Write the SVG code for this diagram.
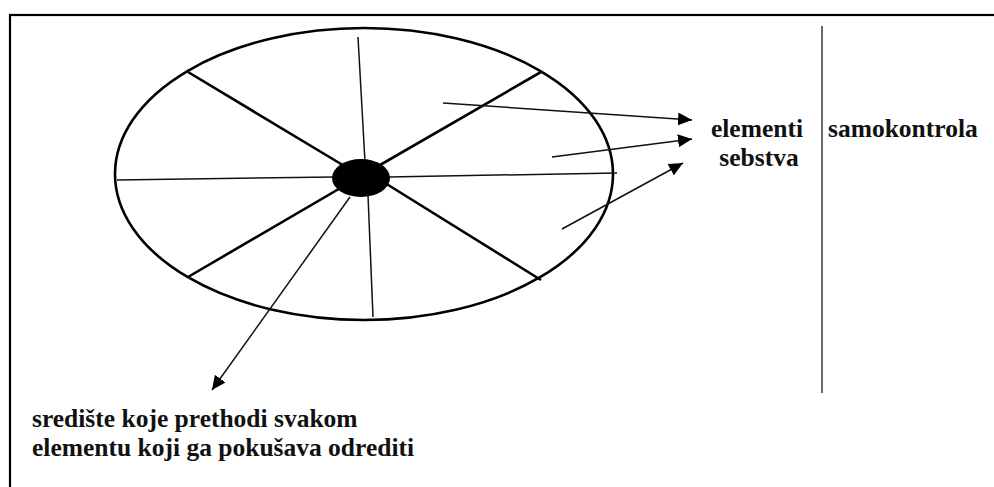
<svg xmlns="http://www.w3.org/2000/svg" width="994" height="487" viewBox="0 0 994 487">
<style>
.thick{stroke:#000;stroke-width:2.6;fill:none}
.thin{stroke:#111;stroke-width:1.5;fill:none}
.arr{stroke:#111;stroke-width:1.5;fill:none;marker-end:url(#ah)}
text{font-weight:bold;font-size:25.5px;fill:#111}
</style>
<defs>
<marker id="ah" markerUnits="userSpaceOnUse" markerWidth="15" markerHeight="13" refX="14" refY="6.5" orient="auto">
<path d="M0,0 L14,6.5 L0,13 z" fill="#000"/>
</marker>
</defs>
<rect x="10" y="15" width="1000" height="500" fill="#fff" stroke="#000" stroke-width="2.2"/>
<g id="wheel">
<ellipse cx="364" cy="174" rx="249" ry="146" class="thick"/>
<line x1="188" y1="72" x2="361" y2="176" class="thick"/>
<line x1="541" y1="72" x2="361" y2="176" class="thick"/>
<line x1="188" y1="277" x2="361" y2="176" class="thick"/>
<line x1="541" y1="280" x2="385" y2="183" class="thick"/>
<line x1="358" y1="37" x2="365" y2="162" class="thin"/>
<line x1="368" y1="195" x2="373" y2="317" class="thin"/>
<line x1="117" y1="180" x2="334" y2="177" class="thin"/>
<line x1="388" y1="177" x2="617" y2="173" class="thin"/>
</g>
<g id="hub">
<ellipse cx="361" cy="178" rx="29" ry="19" fill="#000"/>
</g>
<g id="connectors">
<line x1="443" y1="103" x2="692" y2="120" class="arr"/>
<line x1="552" y1="157" x2="692" y2="139" class="arr"/>
<line x1="562" y1="229" x2="683" y2="163" class="arr"/>
<line x1="350" y1="197" x2="212" y2="390" class="arr"/>
</g>
<g id="divider">
<line x1="822" y1="26" x2="822" y2="393" stroke="#444" stroke-width="1.6"/>
</g>
<g id="elementi-sebstva" font-family="'Liberation Serif', 'DejaVu Serif', serif">
<text x="757" y="137" text-anchor="middle">elementi</text>
<text x="759" y="166" text-anchor="middle">sebstva</text>
</g>
<g id="samokontrola" font-family="'Liberation Serif', 'DejaVu Serif', serif">
<text x="828" y="137">samokontrola</text>
</g>
<g id="srediste" font-family="'Liberation Serif', 'DejaVu Serif', serif">
<text x="32" y="427">središte koje prethodi svakom</text>
<text x="32" y="456">elementu koji ga pokušava odrediti</text>
</g>
</svg>
